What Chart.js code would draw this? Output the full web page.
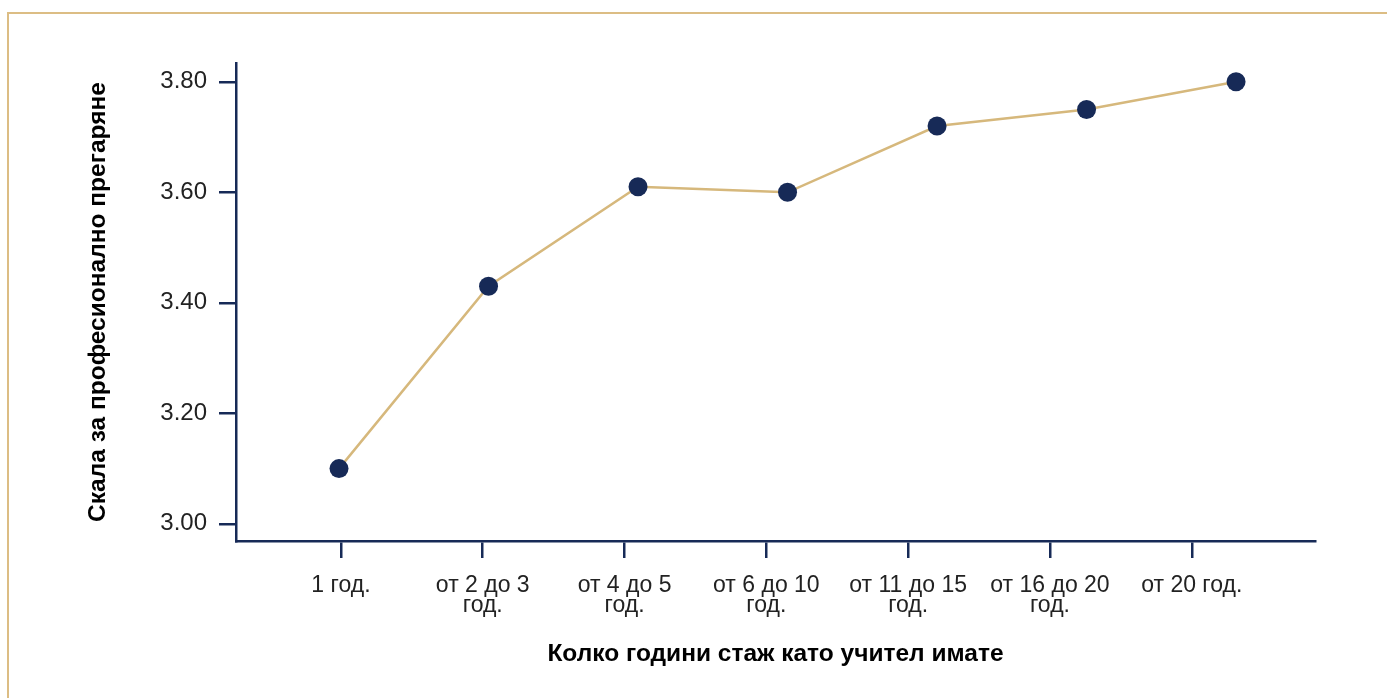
<!DOCTYPE html>
<html lang="bg">

<head>
  <meta charset="UTF-8">
  <title>Прегаряне по стаж</title>
  <script src="https://cdn.jsdelivr.net/npm/chart.js"></script>
  <style>
    body { margin: 0; background: #fff; }
    #wrap { position: relative; width: 1387px; height: 698px; }
    #frame {
      position: absolute; left: 7px; top: 12px; right: -10px; bottom: -10px;
      border-left: 2px solid #dcbd84; border-top: 2px solid #dcbd84;
    }
    canvas { position: absolute; left: 0; top: 0; }
  </style>
</head>

<body>
  <div id="wrap">
    <div id="frame"></div>
    <canvas id="burnoutChart" width="1387" height="698"></canvas>
  </div>

  <script>
    // categories (\n = line break in the tick label)
    const stazhLabels = ['1 год.', 'от 2 до 3\nгод.', 'от 4 до 5\nгод.', 'от 6 до 10\nгод.',
      'от 11 до 15\nгод.', 'от 16 до 20\nгод.', 'от 20 год.'];
    // mean scores on the burnout scale
    const burnoutMeans = [3.10, 3.43, 3.61, 3.60, 3.72, 3.75, 3.80];
    const yTicks = [3.00, 3.20, 3.40, 3.60, 3.80];

    const navy = '#172a57';
    const tan = '#d6b87c';
    const family = 'Liberation Sans, Arial, sans-serif';
    const tickFont = { family: family, size: 23, lineHeight: 0.87 };
    const titleFont = { family: family, size: 24.5, weight: 'bold', lineHeight: 1.2 };

    const ctx = document.getElementById('burnoutChart').getContext('2d');
    new Chart(ctx, {
      type: 'line',
      data: {
        datasets: [{
          data: burnoutMeans.map((v, i) => ({ x: i, y: v })),
          borderColor: tan,
          borderWidth: 2.5,
          pointRadius: 9.5,
          pointBackgroundColor: navy,
          pointBorderWidth: 0,
          xAxisID: 'x',
          yAxisID: 'y'
        }]
      },
      options: {
        responsive: false,
        animation: false,
        layout: { padding: { top: 63, right: 72, bottom: 0, left: 0 } },
        plugins: { legend: { display: false }, tooltip: { enabled: false } },
        scales: {
          // points are spread slightly wider than the category ticks, as in the original
          x: { type: 'linear', display: false, min: -0.689, max: 6.528 },
          xl: {
            type: 'linear',
            position: 'bottom',
            min: -0.74,
            max: 6.869,
            afterBuildTicks: s => { s.ticks = stazhLabels.map((_, i) => ({ value: i })); },
            afterFit: s => { s.height = 157; },
            ticks: {
              color: '#222',
              font: tickFont,
              padding: 18,
              maxRotation: 0,
              autoSkip: false,
              callback: v => stazhLabels[v] !== undefined ? stazhLabels[v].split('\n') : ''
            },
            grid: { drawOnChartArea: false, drawTicks: true, tickLength: 17, color: navy, lineWidth: 2.5 },
            border: { display: true, color: navy, width: 2.5 },
            title: {
              display: true,
              text: 'Колко години стаж като учител имате',
              color: '#000',
              font: titleFont,
              padding: { top: 0, bottom: 29 }
            }
          },
          y: {
            type: 'linear',
            min: 2.969,
            max: 3.834,
            afterBuildTicks: s => { s.ticks = yTicks.map(v => ({ value: v })); },
            afterFit: s => { s.width = 236; },
            ticks: {
              color: '#222',
              font: { family: family, size: 24 },
              padding: 12,
              callback: v => v.toFixed(2)
            },
            grid: { drawOnChartArea: false, drawTicks: true, tickLength: 17, color: navy, lineWidth: 2.5 },
            border: { display: true, color: navy, width: 2.5 },
            title: {
              display: true,
              text: 'Скала за професионално прегаряне',
              color: '#000',
              font: titleFont,
              padding: { top: 84, bottom: 0 }
            }
          }
        }
      }
    });
  </script>
</body>

</html>
